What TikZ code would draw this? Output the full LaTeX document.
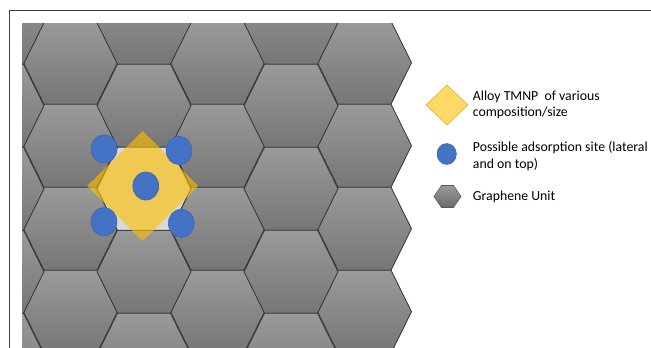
\documentclass[tikz,border=0pt]{standalone}
\usepackage{fontspec}
\setmainfont{Carlito}
\usetikzlibrary{shapes.geometric}
\definecolor{hextop}{HTML}{9A9A9A}
\definecolor{hexbot}{HTML}{767676}
\definecolor{hexline}{HTML}{333333}
\definecolor{framecol}{HTML}{404040}
\definecolor{lightcell}{HTML}{D9D9D9}
\definecolor{goldnp}{HTML}{FFC000}
\definecolor{legyellow}{HTML}{FFD966}
\definecolor{legyellowline}{HTML}{D9A826}
\definecolor{siteblue}{HTML}{4472C4}
\definecolor{siteline}{HTML}{3A63AE}
\tikzset{
  hexcell/.style={draw=hexline, line width=0.8pt, top color=hextop, bottom color=hexbot},
  site/.style={ellipse, fill=siteblue, draw=siteline, line width=0.5pt, minimum width=26pt, minimum height=28.4pt, inner sep=0pt},
  legtext/.style={anchor=west, align=left, inner sep=0pt, font=\fontsize{13.8}{16.3}\selectfont, text=black}
}
\begin{document}
\begin{tikzpicture}[x=1pt,y=-1pt]
\useasboundingbox (0,0) rectangle (651,348);
\fill[white] (0,0) rectangle (651,348);
% graphene lattice
\begin{scope}
\clip (22,23) rectangle (651,348);
\foreach \cx in {70.5,217.5,364.5}{
  \foreach \cy in {-20.3,62.7,145.7,228.7,311.7,394.7}{
    \path[hexcell,shift={(\cx,\cy)}] (-47,0) -- (-26.5,-41.5) -- (26.5,-41.5) -- (47,0) -- (26.5,41.5) -- (-26.5,41.5) -- cycle;
  }
}
\foreach \cx in {-3,144,291}{
  \foreach \cy in {22.7,105.7,188.7,271.7,354.7}{
    \path[hexcell,shift={(\cx,\cy)}] (-47,0) -- (-26.5,-41.5) -- (26.5,-41.5) -- (47,0) -- (26.5,41.5) -- (-26.5,41.5) -- cycle;
  }
}
\end{scope}
% highlighted cell
\path[draw=hexline, line width=0.8pt, fill=lightcell, shift={(144,188.7)}] (-47,0) -- (-26.5,-41.5) -- (26.5,-41.5) -- (47,0) -- (26.5,41.5) -- (-26.5,41.5) -- cycle;
% nanoparticle
\fill[goldnp, opacity=0.62] (142.7,131) -- (198.2,186) -- (142.7,241) -- (87.2,186) -- cycle;
% adsorption sites
\node[site] (stl) at (104,149) {};
\node[site] (str) at (179,150.5) {};
\node[site] (sc) at (145.8,186) {};
\node[site] (sbl) at (104,221.7) {};
\node[site] (sbr) at (181.3,223.3) {};
% frame
\draw[framecol, line width=1.3pt] (9.5,348) -- (9.5,10.5) -- (651,10.5);
% legend
\fill[legyellow, draw=legyellowline, line width=0.5pt] (447,85) -- (468,105) -- (447,125) -- (426,105) -- cycle;
\node[legtext] (t1) at (472.7,105) {Alloy TMNP~ of various\\composition/size};
\node[site, minimum width=19.4pt, minimum height=21pt] (lsite) at (446.7,154) {};
\node[legtext] (t2) at (472.7,156) {Possible adsorption site (lateral\\and on top)};
\path[draw=hexline!80, line width=0.6pt, top color=hextop, bottom color=hexbot!90!black, shift={(447.5,196.5)}] (-13.5,0) -- (-6,-11) -- (6,-11) -- (13.5,0) -- (6,11) -- (-6,11) -- cycle;
\node[legtext] (t3) at (472.7,196.5) {Graphene Unit};
\end{tikzpicture}
\end{document}
